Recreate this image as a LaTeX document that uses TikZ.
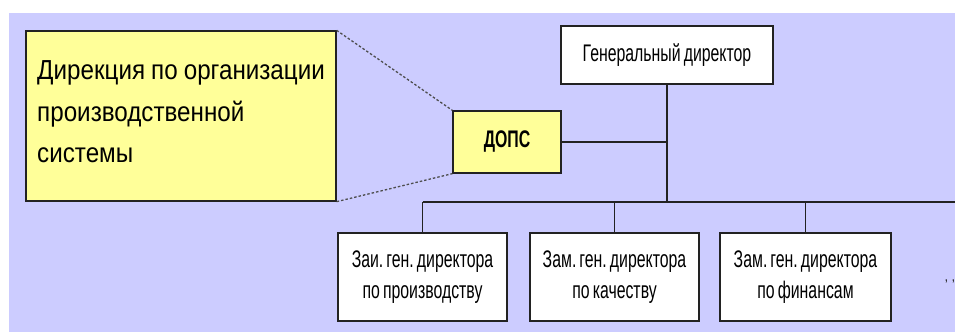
\documentclass[tikz,border=0pt]{standalone}
\usepackage{fontspec}
\setmainfont{Liberation Sans}
\newfontfamily\narrowfont[FakeStretch=0.66, WordSpace=0.7]{Liberation Sans}
\newfontfamily\notefont[FakeStretch=0.88, WordSpace=0.9]{Liberation Sans}
\frenchspacing
\definecolor{lavender}{HTML}{CCCCFF}
\definecolor{paleyellow}{HTML}{FFFF99}
\definecolor{edge}{HTML}{222222}
\tikzset{
  box/.style={draw=edge, line width=1.3pt, fill=white, rectangle, inner sep=0pt,
    align=center, font=\narrowfont\frenchspacing\fontsize{24}{31}\selectfont},
  yellowbox/.style={box, fill=paleyellow},
  wire/.style={draw=edge, line width=1.3pt},
  zoomline/.style={draw=edge!80, line width=1.3pt, dash pattern=on 2.5pt off 2pt}
}
\begin{document}
\begin{tikzpicture}[x=1pt, y=-1pt]
  \useasboundingbox (0,0) rectangle (955,332);
  % page background
  \fill[white] (0,0) rectangle (955,332);
  \fill[lavender] (9,13) rectangle (955,332);

  % enlarged explanation of the abbreviation
  \node[yellowbox, minimum width=310pt, minimum height=170pt,
        align=left, font=\notefont\fontsize{27.5}{41.5}\selectfont]
    (note) at (181,116)
    {Дирекция по организации\\производственной\\системы\rule[-8pt]{0pt}{8pt}};

  % top of the chart
  \node[box, minimum width=212pt, minimum height=58pt] (gen) at (667,55)
    {Генеральный директор};
  \node[yellowbox, minimum width=108pt, minimum height=62pt,
        font=\narrowfont\bfseries\fontsize{24}{26}\selectfont] (dops) at (507,142) {ДОПС};

  % deputies
  \node[box, minimum width=169pt, minimum height=88pt] (z1) at (422.5,277)
    {Заи. ген. директора\\по производству};
  \node[box, minimum width=169pt, minimum height=88pt] (z2) at (614.5,277)
    {Зам. ген. директора\\по качеству};
  \node[box, minimum width=171pt, minimum height=88pt] (z3) at (805.5,277)
    {Зам. ген. директора\\по финансам};

  % junction points of the tree
  \coordinate (hub) at (gen.south |- 0,202);
  \coordinate (busend) at (955,202);
  \coordinate (dopsjoin) at (gen.south |- dops.east);

  \draw[wire] (gen.south) -- (hub);
  \draw[wire] (dops.east) -- (dopsjoin);
  \draw[wire] (z1.north |- hub) -- (busend);
  \draw[wire] (z1.north |- hub) -- (z1.north);
  \draw[wire] (z2.north |- hub) -- (z2.north);
  \draw[wire] (z3.north |- hub) -- (z3.north);

  % dotted call-out lines
  \draw[zoomline] (note.north east) -- (dops.north west);
  \draw[zoomline] (note.south east) -- (dops.south west);

  % marks at the right border
  \node[inner sep=0pt, font=\fontsize{14}{14}\selectfont, text=edge] (more) at (950,285) {' '};
\end{tikzpicture}
\end{document}
